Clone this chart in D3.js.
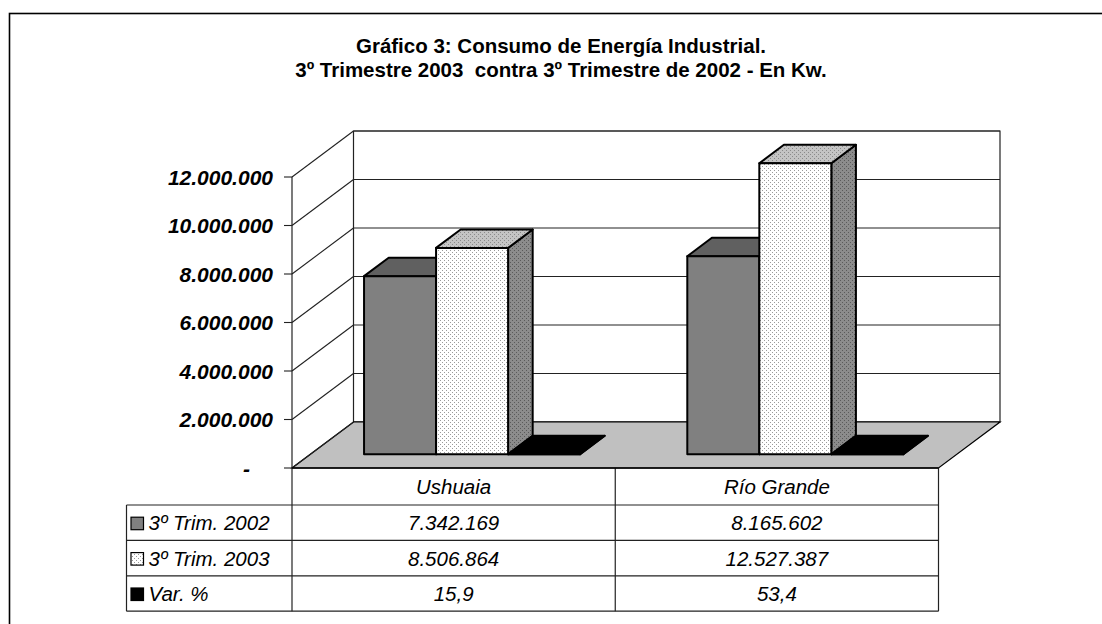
<!DOCTYPE html>
<html>
<head>
<meta charset="utf-8">
<script src="https://cdn.jsdelivr.net/npm/d3@7/dist/d3.min.js"></script>
<style>
  body { margin: 0; background: #fff; }
  text { font-family: "Liberation Sans", Arial, sans-serif; fill: #000; }
</style>
</head>
<body>
<svg id="chart" width="1102" height="624"></svg>
<script>
// ---- data ----
const titleLines = [
  "Gráfico 3: Consumo de Energía Industrial.",
  "3º Trimestre 2003  contra 3º Trimestre de 2002 - En Kw."
];
const categories = ["Ushuaia", "Río Grande"];
const seriesNames = ["3º Trim. 2002", "3º Trim. 2003", "Var. %"];
const trim2002 = [7342169, 8165602];
const trim2003 = [8506864, 12527387];
const varPct = [15.9, 53.4];
const yTicks = [0, 2000000, 4000000, 6000000, 8000000, 10000000, 12000000];

// ---- layout ----
const svg = d3.select("#chart");
const ox = 292, oy = 468;         // front-left corner of the floor
const W = 646.5, H = 291;         // floor width, axis height
const DX = 61.5, DY = 46;         // depth offset of the back wall
const zFront = 0.3, zBack = 0.7;  // depth slice the bars occupy
const FONT = 20.5;

const es = d3.formatLocale({ decimal: ",", thousands: ".", grouping: [3], currency: ["$", ""] });
const fmtInt = es.format(",d");
const fmtPct = es.format(",.1f");

const y = d3.scaleLinear().domain([0, 12000000]).range([0, H]).clamp(true);
const x = d3.scaleBand().domain(categories).range([0, W]).padding(0);
const inner = d3.scaleBand().domain(seriesNames)
  .range([53.6, x.bandwidth() - 53.6]).padding(0);

// oblique projection: x along floor, h up, z into depth (0..1)
const P = (px, h, z) => [ox + px + z * DX, oy - h - z * DY];
const poly = pts => "M" + pts.map(p => p.join(",")).join("L") + "Z";

// ---- patterns ----
const defs = svg.append("defs");
function dots(id, bg, dot) {
  const p = defs.append("pattern").attr("id", id)
    .attr("width", 4).attr("height", 4).attr("patternUnits", "userSpaceOnUse");
  p.append("rect").attr("width", 4).attr("height", 4).attr("fill", bg);
  p.append("rect").attr("x", 0).attr("y", 0).attr("width", 1).attr("height", 1).attr("fill", dot);
  p.append("rect").attr("x", 2).attr("y", 2).attr("width", 1).attr("height", 1).attr("fill", dot);
}
dots("dotFront", "#ffffff", "#9a9a9a");
dots("dotTop", "#c4c4c4", "#8a8a8a");
dots("dotSide", "#8c8c8c", "#5a5a5a");

// ---- outer frame ----
svg.append("rect").attr("x", 9.5).attr("y", 13.5).attr("width", 1200).attr("height", 700)
  .attr("fill", "none").attr("stroke", "#000").attr("stroke-width", 1.6);

// ---- title ----
svg.append("g").selectAll("text").data(titleLines).join("text")
  .attr("x", 561).attr("y", (d, i) => 53 + i * 24)
  .attr("text-anchor", "middle").style("white-space", "pre")
  .attr("font-size", FONT).attr("font-weight", "bold")
  .text(d => d);

// ---- back wall with gridlines ----
const walls = svg.append("g");
walls.append("path")
  .attr("d", poly([P(0, 0, 1), P(W, 0, 1), P(W, H, 1), P(0, H, 1)]))
  .attr("fill", "#fff").attr("stroke", "#222").attr("stroke-width", 1.2);
walls.selectAll("line.back").data(yTicks).join("line").attr("class", "back")
  .attr("x1", d => P(0, y(d), 1)[0]).attr("y1", d => P(0, y(d), 1)[1])
  .attr("x2", d => P(W, y(d), 1)[0]).attr("y2", d => P(W, y(d), 1)[1])
  .attr("stroke", "#222").attr("stroke-width", 1.1);

// ---- floor ----
walls.append("path")
  .attr("d", poly([P(0, 0, 0), P(W, 0, 0), P(W, 0, 1), P(0, 0, 1)]))
  .attr("fill", "#c0c0c0").attr("stroke", "#000").attr("stroke-width", 1.2);

// ---- left wall gridlines ----
walls.selectAll("line.side").data(yTicks).join("line").attr("class", "side")
  .attr("x1", d => P(0, y(d), 0)[0]).attr("y1", d => P(0, y(d), 0)[1])
  .attr("x2", d => P(0, y(d), 1)[0]).attr("y2", d => P(0, y(d), 1)[1])
  .attr("stroke", "#222").attr("stroke-width", 1.1);

// ---- bars ----
const series = [
  { name: seriesNames[0], values: trim2002, front: "#808080", top: "#606060", side: "#505050" },
  { name: seriesNames[1], values: trim2003, front: "url(#dotFront)", top: "url(#dotTop)", side: "url(#dotSide)" },
  { name: seriesNames[2], values: varPct, front: "#000", top: "#000", side: "#000" }
];
const bars = svg.append("g").attr("stroke", "#000").attr("stroke-width", 2)
  .attr("stroke-linejoin", "round");
categories.forEach((cat, ci) => {
  series.forEach(s => {
    const x0 = x(cat) + inner(s.name), x1 = x0 + inner.bandwidth();
    const h = y(s.values[ci]);
    const g = bars.append("g");
    g.append("path").attr("fill", s.side)
      .attr("d", poly([P(x1, 0, zFront), P(x1, 0, zBack), P(x1, h, zBack), P(x1, h, zFront)]));
    g.append("path").attr("fill", s.top)
      .attr("d", poly([P(x0, h, zFront), P(x1, h, zFront), P(x1, h, zBack), P(x0, h, zBack)]));
    g.append("path").attr("fill", s.front)
      .attr("d", poly([P(x0, 0, zFront), P(x1, 0, zFront), P(x1, h, zFront), P(x0, h, zFront)]));
  });
});

// ---- value axis ----
const axis = svg.append("g");
axis.append("line").attr("x1", ox).attr("x2", ox).attr("y1", oy - y(12000000)).attr("y2", oy)
  .attr("stroke", "#222").attr("stroke-width", 1.2);
axis.selectAll("line.tick").data(yTicks).join("line").attr("class", "tick")
  .attr("x1", ox - 8).attr("x2", ox).attr("y1", d => oy - y(d)).attr("y2", d => oy - y(d))
  .attr("stroke", "#222").attr("stroke-width", 1.1);
axis.selectAll("text").data(yTicks).join("text")
  .attr("x", d => d === 0 ? 250 : 273).attr("y", d => oy - y(d) + 7.5)
  .attr("text-anchor", "end").attr("font-size", 21)
  .attr("font-weight", "bold").attr("font-style", "italic")
  .text(d => d === 0 ? "-" : fmtInt(d));

// ---- data table ----
const tLeft = 126.5, tRight = ox + W;
const rowY = [468, 505, 540.4, 575.8, 611.2];
const table = svg.append("g").attr("stroke", "#222").attr("stroke-width", 1.2);
// horizontal rules
rowY.forEach((ry, i) => {
  if (i === 0) return; // top rule is the floor edge
  table.append("line").attr("x1", tLeft).attr("x2", tRight).attr("y1", ry).attr("y2", ry);
});
// vertical rules
table.append("line").attr("x1", tLeft).attr("x2", tLeft).attr("y1", rowY[1]).attr("y2", rowY[4]);
[0, 1, 2].forEach(k => {
  const vx = ox + k * x.bandwidth();
  table.append("line").attr("x1", vx).attr("x2", vx).attr("y1", rowY[0]).attr("y2", rowY[4]);
});
table.append("line").attr("x1", ox).attr("x2", tRight).attr("y1", oy).attr("y2", oy)
  .attr("stroke", "#000").attr("stroke-width", 1.6);

const cellText = svg.append("g").attr("font-size", FONT).attr("font-style", "italic")
  .attr("text-anchor", "middle");
categories.forEach((cat, ci) => {
  const cx = ox + x(cat) + x.bandwidth() / 2;
  cellText.append("text").attr("x", cx).attr("y", (rowY[0] + rowY[1]) / 2 + 7.5).text(cat);
  series.forEach((s, si) => {
    const v = s.values[ci];
    cellText.append("text").attr("x", cx).attr("y", (rowY[si + 1] + rowY[si + 2]) / 2 + 7.5)
      .text(si === 2 ? fmtPct(v) : fmtInt(v));
  });
});

// legend keys + series names in the first column
const keyFill = ["#808080", "url(#dotFront)", "#000"];
series.forEach((s, si) => {
  const cy = (rowY[si + 1] + rowY[si + 2]) / 2;
  svg.append("rect").attr("x", 131).attr("y", cy - 5.5).attr("width", 12.5).attr("height", 12.5)
    .attr("fill", keyFill[si]).attr("stroke", "#000").attr("stroke-width", 1.2);
  svg.append("text").attr("x", 148.5).attr("y", cy + 7.5)
    .attr("font-size", FONT).attr("font-style", "italic").text(s.name);
});
</script>
</body>
</html>
